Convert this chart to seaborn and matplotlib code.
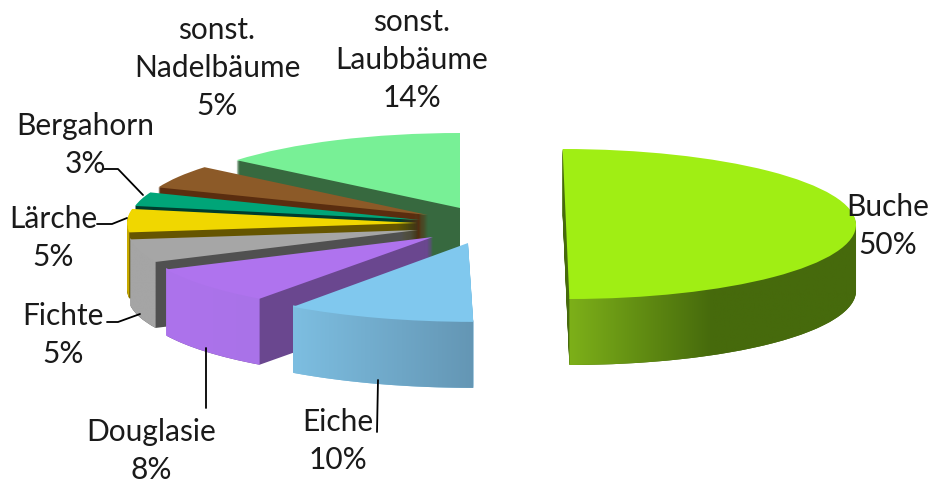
import numpy as np
import matplotlib
matplotlib.use("Agg")
import matplotlib.pyplot as plt
import seaborn as sns
from matplotlib.colors import LinearSegmentedColormap
from matplotlib.path import Path
from matplotlib.transforms import Affine2D

# chart data, clockwise from the top
names = ["Buche", "Eiche", "Douglasie", "Fichte", "Lärche", "Bergahorn",
         "sonst.\nNadelbäume", "sonst.\nLaubbäume"]
shares = [50, 10, 8, 5, 5, 3, 5, 14]

top_colors = ["#a0ee14", "#80c8ee", "#af73ee", "#a6a6a6", "#f0d700", "#00a578", "#8c5a28", "#78f096"]
cut_colors = ["#466a0c", "#7dbee1", "#6a478f", "#505050", "#655500", "#003c2d", "#5a2d0f", "#37693f"]
# colours of the outer wall, left to right
wall_colors = [["#7db019", "#466a0c", "#466a0c"], ["#7dbee1", "#6496b4"], ["#ad73ec", "#a972e8"],
               ["#a5a5a5", "#a5a5a5"], ["#c8aa00", "#c8aa00"], ["#007a58", "#007a58"],
               ["#6e4519", "#6e4519"], ["#4f9a63", "#4f9a63"]]

# layout in picture pixels: apex x, apex y, radius, shear
slices = [(566, 224, 290, 0.045), (468, 243, 305, 0.067), (433, 237, 295, 0), (418, 230, 290, 0),
          (417, 223, 290, 0), (420, 220, 290, 0), (428, 215, 290, 0), (460, 208, 290, 0)]
draw_order = [7, 6, 5, 4, 3, 2, 1, 0]
label_pos = [(888, 226), (338, 441), (151, 451), (63, 335), (53, 238), (85, 145), (217, 68), (412, 60)]
leaders = [[(103, 169), (118, 169), (143, 195)], [(97, 224), (112, 224), (127, 218)],
           [(107, 322), (118, 322), (140, 314)], [(206, 348), (206, 408)], [(378, 380), (377, 432)]]

Y_SCALE = 290 / 75  # squash of the pie
DEPTH = 66


def yd(py):
    return (483 - py) * Y_SCALE


sns.set_theme(style="white")
plt.rcParams["font.family"] = ["Lato", "DejaVu Sans"]

fig, ax = plt.subplots(figsize=(9.3, 4.83), dpi=100)
fig.subplots_adjust(0, 0, 1, 1)

starts = np.cumsum([0] + shares[:-1]) * 3.6
z = 1

for i in draw_order:
    px, py, radius, shear = slices[i]
    sweep = shares[i] * 3.6
    start = starts[i]
    cy = yd(py)

    def sheared(y0):
        c = -shear / Y_SCALE
        return Affine2D.from_values(1, 0, c, 1, -c * y0, 0) + ax.transData

    def face(y0, color):
        global z
        wedges, _ = ax.pie([shares[i] / 100], colors=[color], center=(px, y0), radius=radius,
                           startangle=90 - start, counterclock=False, normalize=False,
                           wedgeprops={"linewidth": 0})
        wedges[0].set_transform(sheared(y0))
        wedges[0].set_zorder(z)
        z += 1

    # cut faces: stack of dark layers
    for d in range(DEPTH, 0, -1):
        face(cy - d * Y_SCALE, cut_colors[i])

    # outer wall, only the part that faces the viewer
    a0, a1 = max(start, 90), min(start + sweep, 270)
    if a1 > a0:
        ang = np.radians(90 - np.linspace(a0, a1, 80))
        ys = cy + radius * np.sin(ang)
        xs = px + radius * np.cos(ang) + shear * (cy - ys) / Y_SCALE
        # upper rim goes a little under the top face so no seam shows
        outline = np.vstack([np.column_stack([xs, ys + 1.5 * Y_SCALE]),
                             np.column_stack([xs, ys - DEPTH * Y_SCALE])[::-1]])
        cmap = LinearSegmentedColormap.from_list("wall", wall_colors[i])
        im = ax.imshow(np.linspace(0, 1, 256)[None, :], cmap=cmap, aspect="auto",
                       extent=(xs.min(), xs.max(), outline[:, 1].min(), outline[:, 1].max()), zorder=z)
        z += 1
        im.set_clip_path(Path(np.vstack([outline, outline[:1]]), closed=True), transform=ax.transData)

    face(cy, top_colors[i])

for pts in leaders:
    lx, ly = zip(*pts)
    ax.plot(lx, [yd(p) for p in ly], color="black", lw=1.3, zorder=z)

for name, share, (lx, ly) in zip(names, shares, label_pos):
    ax.text(lx, yd(ly), f"{name}\n{share}%", ha="center", va="center", fontsize=21.5,
            color="#1a1a1a", linespacing=1.42, zorder=z + 1)

ax.set_aspect("auto")
ax.set_xlim(0, 930)
ax.set_ylim(0, 483 * Y_SCALE)
ax.axis("off")

fig.savefig("out.png", dpi=100)
